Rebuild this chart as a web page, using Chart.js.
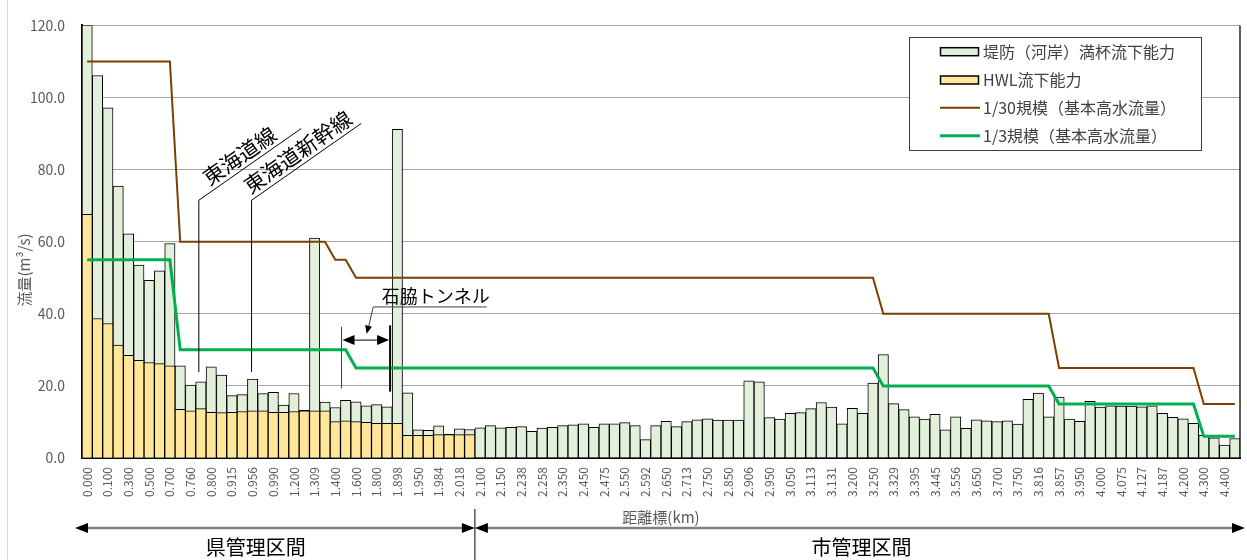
<!DOCTYPE html>
<html lang="ja">
<head>
<meta charset="utf-8">
<title>流下能力図</title>
<script src="https://cdn.jsdelivr.net/npm/chart.js@4.4.1/dist/chart.umd.min.js"></script>
<style>
  html, body { margin: 0; padding: 0; background: #fff; }
  #wrap { width: 1247px; height: 560px; }
</style>
</head>
<body>
<div id="wrap"><canvas id="flowChart" width="1247" height="560"></canvas></div>
<script>
// 距離標(km)：目盛りは2断面ごと
const kmTicks = [
  "0.000", "0.100", "0.300", "0.500", "0.700", "0.760", "0.800", "0.915", "0.956", "0.990",
  "1.200", "1.309", "1.400", "1.600", "1.800", "1.898", "1.950", "1.984", "2.018", "2.100",
  "2.150", "2.238", "2.258", "2.350", "2.450", "2.475", "2.550", "2.592", "2.650", "2.713",
  "2.750", "2.850", "2.906", "2.950", "3.050", "3.113", "3.131", "3.200", "3.250", "3.329",
  "3.395", "3.445", "3.556", "3.650", "3.700", "3.750", "3.816", "3.857", "3.950", "4.000",
  "4.075", "4.127", "4.187", "4.200", "4.300", "4.400"
];

// 堤防（河岸）満杯流下能力 (m3/s)
const bankFull = [
  120.0, 106.1, 97.1, 75.4, 62.2, 53.5, 49.3, 51.9, 59.5, 25.6,
  20.2, 21.1, 25.3, 23.0, 17.3, 17.6, 21.9, 17.9, 18.2, 14.7,
  17.9, 13.2, 61.0, 15.5, 14.0, 16.0, 15.6, 14.5, 14.8, 14.2,
  91.2, 18.1, 7.8, 7.7, 8.9, 6.6, 8.1, 7.9, 8.4, 9.0,
  8.4, 8.5, 8.7, 7.4, 8.3, 8.5, 9.0, 9.2, 9.5, 8.5,
  9.5, 9.5, 9.8, 9.0, 5.1, 9.0, 10.2, 8.7, 10.1, 10.6,
  10.9, 10.5, 10.5, 10.5, 21.4, 21.1, 11.2, 10.8, 12.4, 12.6,
  13.7, 15.4, 14.1, 9.5, 13.8, 12.4, 20.8, 28.7, 15.1, 13.4,
  11.4, 10.8, 12.1, 7.8, 11.4, 8.2, 10.6, 10.3, 10.1, 10.3,
  9.4, 16.3, 18.0, 11.4, 16.9, 10.8, 10.2, 15.7, 14.1, 14.5,
  14.4, 14.4, 14.2, 14.5, 12.4, 11.3, 10.9, 9.6, 6.3, 5.6,
  3.6, 5.4
];

// HWL流下能力 (m3/s)：県管理区間のみ
const hwl = [
  67.6, 38.7, 37.3, 31.3, 28.5, 27.1, 26.5, 26.2, 25.6, 13.5,
  13.1, 13.7, 12.7, 12.6, 12.7, 12.9, 13.1, 13.1, 12.7, 12.7,
  12.9, 13.1, 13.1, 13.1, 10.1, 10.3, 10.1, 9.9, 9.6, 9.6,
  9.6, 6.3, 6.3, 6.3, 6.5, 6.5, 6.5, 6.5
];

// 1/30規模（基本高水流量）
const design30 = [
  110, 110, 110, 110, 110, 110, 110, 110, 110, 60,
  60, 60, 60, 60, 60, 60, 60, 60, 60, 60,
  60, 60, 60, 60, 55, 55, 50, 50, 50, 50,
  50, 50, 50, 50, 50, 50, 50, 50, 50, 50,
  50, 50, 50, 50, 50, 50, 50, 50, 50, 50,
  50, 50, 50, 50, 50, 50, 50, 50, 50, 50,
  50, 50, 50, 50, 50, 50, 50, 50, 50, 50,
  50, 50, 50, 50, 50, 50, 50, 40, 40, 40,
  40, 40, 40, 40, 40, 40, 40, 40, 40, 40,
  40, 40, 40, 40, 25, 25, 25, 25, 25, 25,
  25, 25, 25, 25, 25, 25, 25, 25, 15, 15,
  15, 15
];

// 1/3規模（基本高水流量）
const design3 = [
  55, 55, 55, 55, 55, 55, 55, 55, 55, 30,
  30, 30, 30, 30, 30, 30, 30, 30, 30, 30,
  30, 30, 30, 30, 30, 30, 25, 25, 25, 25,
  25, 25, 25, 25, 25, 25, 25, 25, 25, 25,
  25, 25, 25, 25, 25, 25, 25, 25, 25, 25,
  25, 25, 25, 25, 25, 25, 25, 25, 25, 25,
  25, 25, 25, 25, 25, 25, 25, 25, 25, 25,
  25, 25, 25, 25, 25, 25, 25, 20, 20, 20,
  20, 20, 20, 20, 20, 20, 20, 20, 20, 20,
  20, 20, 20, 20, 15, 15, 15, 15, 15, 15,
  15, 15, 15, 15, 15, 15, 15, 15, 6, 6,
  6, 6
];

const yTicks = [0, 20, 40, 60, 80, 100, 120];

// 断面ごとのカテゴリ（奇数番目は目盛り表示なし）
const labels = kmTicks.flatMap((k) => [k, ""]);

const JP = '"Noto Sans CJK JP", "Noto Sans", sans-serif';
const GREY = "#595959";

function arrowHead(ctx, tx, ty, fx, fy, len, half) {
  const a = Math.atan2(ty - fy, tx - fx);
  const bx = tx - len * Math.cos(a);
  const by = ty - len * Math.sin(a);
  ctx.beginPath();
  ctx.moveTo(tx, ty);
  ctx.lineTo(bx + half * Math.sin(a), by - half * Math.cos(a));
  ctx.lineTo(bx - half * Math.sin(a), by + half * Math.cos(a));
  ctx.closePath();
  ctx.fill();
}

// 引出し線付きの斜め注記（鉄道横断箇所）
function leader(ctx, px, pyTop, pyBottom, len, text, along) {
  const a = (-35 * Math.PI) / 180;
  ctx.save();
  ctx.strokeStyle = "#000";
  ctx.lineWidth = 1;
  ctx.beginPath();
  ctx.moveTo(px, pyBottom);
  ctx.lineTo(px, pyTop);
  ctx.lineTo(px + len * Math.cos(a), pyTop + len * Math.sin(a));
  ctx.stroke();
  ctx.translate(px, pyTop);
  ctx.rotate(a);
  ctx.fillStyle = "#000";
  ctx.font = "21px " + JP;
  ctx.textAlign = "left";
  ctx.textBaseline = "alphabetic";
  ctx.fillText(text, along, -5);
  ctx.restore();
}

const decor = {
  id: "decor",
  beforeDraw(chart) {
    const { ctx, width, height } = chart;
    ctx.save();
    ctx.fillStyle = "#fff";
    ctx.fillRect(0, 0, width, height);
    ctx.strokeStyle = "#d9d9d9";
    ctx.lineWidth = 1;
    ctx.beginPath();
    ctx.moveTo(7.5, 0);
    ctx.lineTo(7.5, height);
    ctx.stroke();
    ctx.restore();
  },
  afterDraw(chart) {
    const { ctx, chartArea: area } = chart;
    const x = chart.scales.x;
    const y = chart.scales.y;
    ctx.save();

    // プロットエリア右枠
    ctx.strokeStyle = "#262626";
    ctx.lineWidth = 1.5;
    ctx.beginPath();
    ctx.moveTo(area.right, area.top);
    ctx.lineTo(area.right, area.bottom);
    ctx.stroke();

    // 鉄道横断
    leader(ctx, x.getPixelForValue(10.8), y.getPixelForValue(71.5), y.getPixelForValue(23.8), 125, "東海道線", 16.7);
    leader(ctx, x.getPixelForValue(15.9), y.getPixelForValue(71.5), y.getPixelForValue(23.8), 134, "東海道新幹線", 2.4);

    // 石脇トンネル区間
    ctx.fillStyle = "#000";
    ctx.strokeStyle = "#404040";
    ctx.lineWidth = 1;
    const tl = x.getPixelForValue(24.6);
    const tr = x.getPixelForValue(29.3);
    ctx.beginPath();
    ctx.moveTo(tl, y.getPixelForValue(36.4));
    ctx.lineTo(tl, y.getPixelForValue(19.3));
    ctx.stroke();
    ctx.strokeStyle = "#000";
    ctx.lineWidth = 2;
    ctx.beginPath();
    ctx.moveTo(tr, y.getPixelForValue(36.8));
    ctx.lineTo(tr, y.getPixelForValue(18.4));
    ctx.stroke();

    const ay = y.getPixelForValue(32.7);
    ctx.lineWidth = 1;
    ctx.beginPath();
    ctx.moveTo(tl + 10, ay);
    ctx.lineTo(tr - 10, ay);
    ctx.stroke();
    arrowHead(ctx, tl + 1, ay, tr, ay, 12, 5);
    arrowHead(ctx, tr - 1, ay, tl, ay, 12, 5);

    const uy = y.getPixelForValue(41.9);
    const ux0 = x.getPixelForValue(27.67);
    const ux1 = x.getPixelForValue(38.64);
    const tipX = x.getPixelForValue(27.03);
    const tipY = y.getPixelForValue(34.5);
    ctx.strokeStyle = "#404040";
    ctx.beginPath();
    ctx.moveTo(ux1, uy);
    ctx.lineTo(ux0, uy);
    ctx.lineTo(tipX + 1.5, tipY - 5);
    ctx.stroke();
    arrowHead(ctx, tipX, tipY, ux0, uy, 8, 3.5);

    ctx.font = "18px " + JP;
    ctx.textAlign = "left";
    ctx.textBaseline = "alphabetic";
    ctx.fillText("石脇トンネル", x.getPixelForValue(28.48), uy - 4);

    // 軸タイトル
    ctx.fillStyle = GREY;
    ctx.font = "15px " + JP;
    ctx.textAlign = "center";
    ctx.textBaseline = "middle";
    ctx.fillText("距離標(km)", (area.left + area.right) / 2, 517);
    ctx.save();
    ctx.translate(24, 270);
    ctx.rotate(-Math.PI / 2);
    ctx.fillText("流量(m³/s)", 0, 0);
    ctx.restore();

    // 管理区間
    const by = 528;
    const bx = x.getPixelForValue(37.5);
    const bl = area.left - 7;
    const br = area.right + 5;
    ctx.strokeStyle = "#000";
    ctx.lineWidth = 1;
    ctx.beginPath();
    ctx.moveTo(bx, 509);
    ctx.lineTo(bx, 560);
    ctx.stroke();
    ctx.strokeStyle = "#808080";
    ctx.lineWidth = 2.5;
    ctx.beginPath();
    ctx.moveTo(bl + 10, by);
    ctx.lineTo(bx - 10, by);
    ctx.moveTo(bx + 10, by);
    ctx.lineTo(br - 10, by);
    ctx.stroke();
    ctx.fillStyle = "#000";
    arrowHead(ctx, bl, by, bx, by, 13, 5);
    arrowHead(ctx, bx, by, bl, by, 13, 5);
    arrowHead(ctx, bx, by, br, by, 13, 5);
    arrowHead(ctx, br, by, bx, by, 13, 5);

    ctx.font = "20px " + JP;
    ctx.textAlign = "center";
    ctx.textBaseline = "middle";
    ctx.fillText("県管理区間", x.getPixelForValue(16.3), 547);
    ctx.fillText("市管理区間", x.getPixelForValue(74.9), 547);

    // 凡例
    const lx = 909.5, ly = 37.5, lw = 292, lh = 113;
    ctx.fillStyle = "#fff";
    ctx.fillRect(lx, ly, lw, lh);
    ctx.strokeStyle = "#3f3f3f";
    ctx.lineWidth = 1;
    ctx.strokeRect(lx, ly, lw, lh);
    const rows = [51.7, 80, 107.7, 135.7];
    ctx.font = "16px " + JP;
    ctx.textAlign = "left";
    ctx.textBaseline = "middle";
    chart.data.datasets.forEach((ds, i) => {
      const ry = rows[i];
      if (ds.type === "line") {
        ctx.strokeStyle = ds.borderColor;
        ctx.lineWidth = ds.borderWidth;
        ctx.beginPath();
        ctx.moveTo(940, ry);
        ctx.lineTo(980, ry);
        ctx.stroke();
      } else {
        ctx.fillStyle = ds.backgroundColor;
        ctx.fillRect(940.5, ry - 4, 38, 8);
        ctx.strokeStyle = "#000";
        ctx.lineWidth = 1.5;
        ctx.strokeRect(940.5, ry - 4, 38, 8);
      }
      ctx.fillStyle = "#404040";
      ctx.fillText(ds.label, 983, ry);
    });

    ctx.restore();
  },
};

Chart.defaults.font.family = JP;

new Chart(document.getElementById("flowChart"), {
  data: {
    labels: labels,
    datasets: [
      {
        type: "bar",
        label: "堤防（河岸）満杯流下能力",
        data: bankFull,
        backgroundColor: "#E2EFDA",
        borderColor: "#000",
        borderWidth: 1,
        grouped: false,
        barPercentage: 1,
        categoryPercentage: 1,
        order: 2,
      },
      {
        type: "bar",
        label: "HWL流下能力",
        data: hwl,
        backgroundColor: "#FFE699",
        borderColor: "#000",
        borderWidth: 1,
        grouped: false,
        barPercentage: 1,
        categoryPercentage: 1,
        order: 1,
      },
      {
        type: "line",
        label: "1/30規模（基本高水流量）",
        data: design30,
        borderColor: "#7B3F00",
        borderWidth: 2,
        pointRadius: 0,
        tension: 0,
        fill: false,
        order: 0,
      },
      {
        type: "line",
        label: "1/3規模（基本高水流量）",
        data: design3,
        borderColor: "#00B050",
        borderWidth: 3,
        pointRadius: 0,
        tension: 0,
        fill: false,
        order: 0,
      },
    ],
  },
  options: {
    responsive: false,
    animation: false,
    layout: { padding: { top: 25, right: 7, left: 0, bottom: 0 } },
    plugins: {
      legend: { display: false },
      tooltip: { enabled: false },
    },
    scales: {
      x: {
        type: "category",
        offset: true,
        afterFit: (s) => {
          s.height = 102;
          s.paddingLeft = 0;
          s.paddingRight = 0;
        },
        grid: { display: false, drawTicks: false },
        border: { display: true, color: "#000", width: 2 },
        ticks: {
          autoSkip: false,
          minRotation: 90,
          maxRotation: 90,
          padding: 9,
          color: GREY,
          font: { size: 12 },
          callback: function (value) {
            return this.getLabelForValue(value);
          },
        },
      },
      y: {
        min: yTicks[0],
        max: yTicks[yTicks.length - 1],
        afterFit: (s) => { s.width = 82; },
        afterBuildTicks: (s) => { s.ticks = yTicks.map((v) => ({ value: v })); },
        grid: { color: "#a6a6a6", lineWidth: 1, drawTicks: false },
        border: { display: true, color: "#000", width: 2 },
        ticks: {
          padding: 17,
          color: GREY,
          font: { size: 14 },
          callback: (v) => Number(v).toFixed(1),
        },
      },
    },
  },
  plugins: [decor],
});
</script>
</body>
</html>
